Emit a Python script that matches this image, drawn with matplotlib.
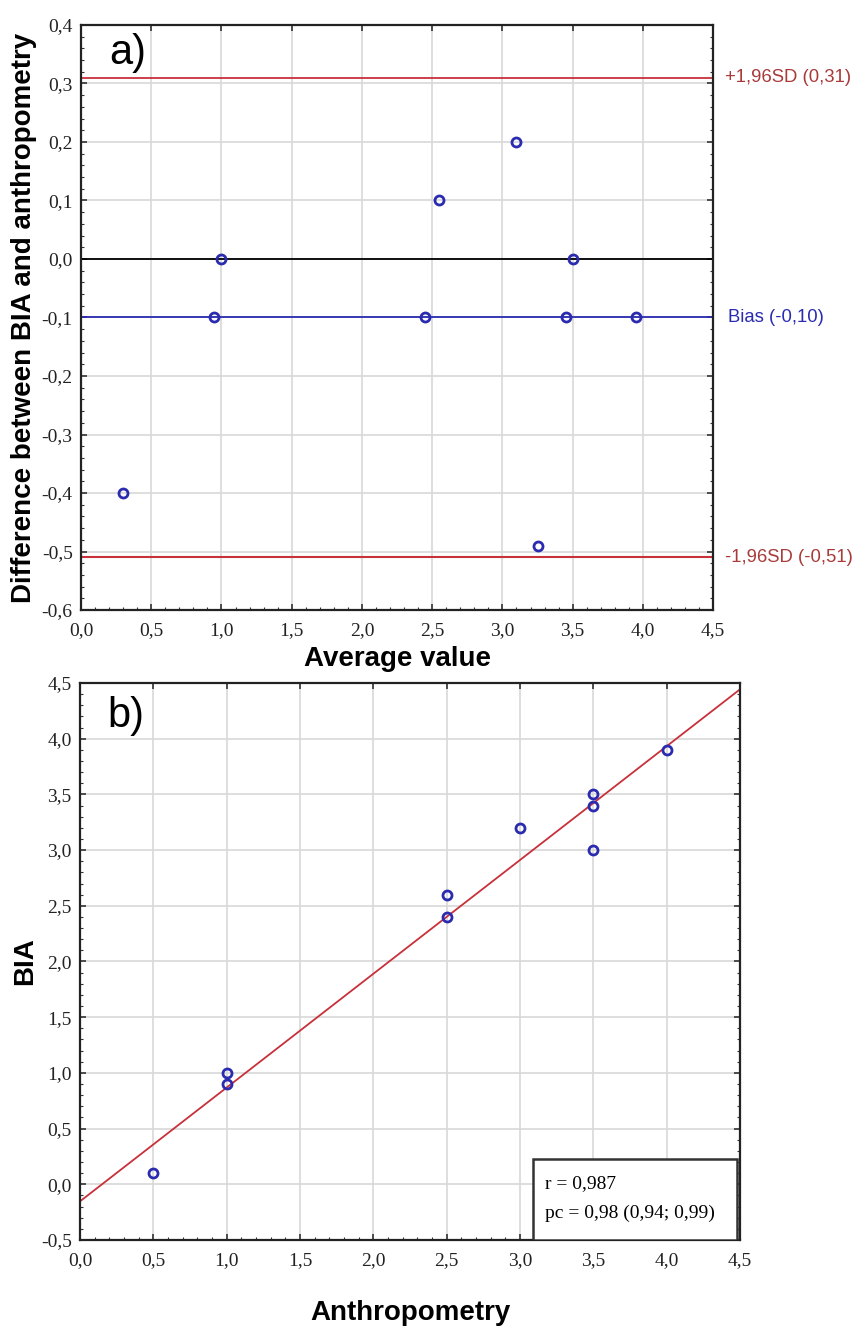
import numpy as np
import matplotlib
matplotlib.use("Agg")
import matplotlib.pyplot as plt
from matplotlib.ticker import MultipleLocator, FuncFormatter
from matplotlib.patches import Rectangle

# panel a) Bland-Altman data
avg_vals = [0.30, 0.95, 1.00, 2.45, 2.55, 3.10, 3.25, 3.45, 3.50, 3.95]
diff_vals = [-0.40, -0.10, 0.00, -0.10, 0.10, 0.20, -0.49, -0.10, 0.00, -0.10]
upper_loa = 0.31
bias = -0.10
lower_loa = -0.51

# panel b) BIA vs anthropometry
anthro = [0.5, 1.0, 1.0, 2.5, 2.5, 3.0, 3.5, 3.5, 3.5, 4.0]
bia = [0.1, 0.9, 1.0, 2.4, 2.6, 3.2, 3.0, 3.4, 3.5, 3.9]
stats_lines = ["r = 0,987", "pc = 0,98 (0,94; 0,99)"]

blue = "#2b2bb0"
red = "#c8303a"
lab_red = "#a83a3a"
sans = "Liberation Sans"
serif = "Liberation Serif"

comma = FuncFormatter(lambda v, p: f"{v:.1f}".replace(".", ","))


def style_axes(ax, yminor):
    ax.grid(True, which="major", color="#d8d8d8", lw=1.2)
    ax.set_axisbelow(True)
    ax.xaxis.set_major_locator(MultipleLocator(0.5))
    ax.xaxis.set_minor_locator(MultipleLocator(0.1))
    ax.yaxis.set_minor_locator(MultipleLocator(yminor))
    ax.xaxis.set_major_formatter(comma)
    ax.yaxis.set_major_formatter(comma)
    ax.tick_params(which="both", direction="in", top=True, right=True,
                   color="#333333")
    ax.tick_params(which="minor", top=False)
    ax.tick_params(which="major", length=4, width=1.2, labelsize=14)
    ax.tick_params(axis="x", which="major", pad=9)
    ax.tick_params(axis="y", which="major", pad=6)
    ax.tick_params(which="minor", length=2, width=0.8)
    for lab in ax.get_xticklabels() + ax.get_yticklabels():
        lab.set_fontfamily(serif)
        lab.set_color("#222222")
    for s in ax.spines.values():
        s.set_linewidth(1.6)
        s.set_color("#222222")


fig = plt.figure(figsize=(8.6, 13.34), dpi=100)

# ---- a) ----
ax1 = fig.add_axes([0.0942, 0.5427, 0.735, 0.4386])
ax1.set_xlim(0, 4.5)
ax1.set_ylim(-0.6, 0.4)
ax1.yaxis.set_major_locator(MultipleLocator(0.1))
ax1.axhline(0, color="black", lw=1.3)
ax1.axhline(upper_loa, color=red, lw=1.3)
ax1.axhline(lower_loa, color=red, lw=1.5)
ax1.axhline(bias, color=blue, lw=1.3)
ax1.plot(avg_vals, diff_vals, "o", mfc="none", mec=blue, mew=2, ms=6.5, zorder=5)
style_axes(ax1, 0.02)
ax1.text(0.045, 0.952, "a)", transform=ax1.transAxes, fontsize=30,
         family=sans, va="center")
ytr = ax1.get_yaxis_transform()
ax1.text(1.019, upper_loa, "+1,96SD (0,31)", transform=ytr,
         color=lab_red, fontsize=13.3, family=sans, va="center")
ax1.text(1.024, bias, "Bias (-0,10)", transform=ytr,
         color=blue, fontsize=13.3, family=sans, va="center")
ax1.text(1.019, lower_loa, "-1,96SD (-0,51)", transform=ytr,
         color=lab_red, fontsize=13.3, family=sans, va="center")
ax1.set_xlabel("Average value", fontsize=20, fontweight="bold", family=sans,
               labelpad=5)
ax1.set_ylabel("Difference between BIA and anthropometry", fontsize=20,
               fontweight="bold", family=sans, labelpad=3)

# ---- b) ----
ax2 = fig.add_axes([0.093, 0.0705, 0.7674, 0.4175])
ax2.set_xlim(0, 4.5)
ax2.set_ylim(-0.5, 4.5)
ax2.yaxis.set_major_locator(MultipleLocator(0.5))
slope, icpt = np.polyfit(anthro, bia, 1)
xs = np.array([0, 4.5])
ax2.plot(xs, icpt + slope * xs, color=red, lw=1.3)
ax2.plot(anthro, bia, "o", mfc="none", mec=blue, mew=2, ms=6.5, zorder=5)
style_axes(ax2, 0.1)
ax2.text(0.041, 0.94, "b)", transform=ax2.transAxes, fontsize=30,
         family=sans, va="center")
ax2.add_patch(Rectangle((0.686, 0.0), 0.309, 0.145, transform=ax2.transAxes,
                        fc="white", ec="#333333", lw=1.8, zorder=6))
ax2.text(0.705, 0.102, stats_lines[0], transform=ax2.transAxes, fontsize=14,
         family=serif, va="center", zorder=7)
ax2.text(0.705, 0.048, stats_lines[1], transform=ax2.transAxes, fontsize=14,
         family=serif, va="center", zorder=7)
ax2.set_xlabel("Anthropometry", fontsize=20, fontweight="bold", family=sans,
               labelpad=22)
ax2.set_ylabel("BIA", fontsize=20, fontweight="bold", family=sans, labelpad=2)

fig.savefig("out.png", dpi=100)
